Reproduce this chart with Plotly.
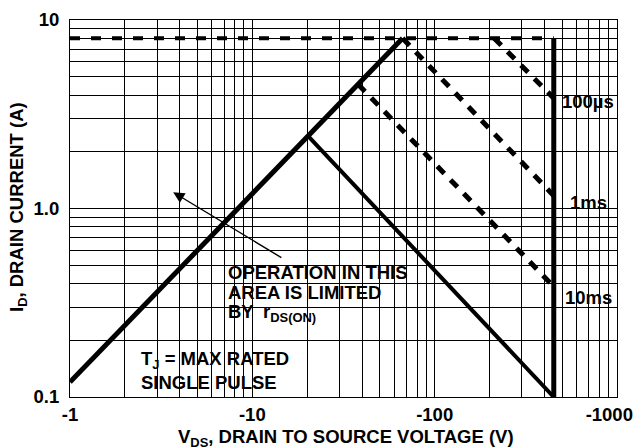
import numpy as np
import plotly.graph_objects as go

# ---------------- data ----------------
# |V_DS| in volts, I_D in amps (log-log safe operating area)
rds_v = [1, 66.7]
rds_i = [0.12, 8]

dc_v = [20, 450]
dc_i = [2.45, 0.1]

limit_v = [1, 450]
limit_i = [8, 8]

bv_v = [450, 450]
bv_i = [8, 0.1]

p100us_v = [212, 450]
p100us_i = [8, 3.85]

p1ms_v = [66.7, 450]
p1ms_i = [8, 1.17]

p10ms_v = [38, 450]
p10ms_i = [4.56, 0.385]

x_grid = [m * 10 ** d for d in range(3) for m in range(1, 10)] + [1000]
x_labels = {1: "-1", 10: "-10", 100: "-100", 1000: "-1000\u2007\u00a0"}
x_text = [x_labels.get(v, "") for v in x_grid]
y_grid = [round(m * 10 ** d, 3) for d in (-1, 0) for m in range(1, 10)] + [10]
y_labels = {0.1: "0.1", 1: "1.0", 10: "10"}
y_text = [y_labels.get(v, "") for v in y_grid]

pulse_labels = ["100\u00b5s", "1ms", "10ms"]

# ---------------- figure ----------------
FONT = "Liberation Sans, Arial, Helvetica, sans-serif"
FS = 18.5
W, H = 637, 448
L, R, T, B = 70, 20, 20, 51
PW, PH = W - L - R, H - T - B


def px(x):
    return (x - L) / PW


def py(y):
    return (H - B - y) / PH


fig = go.Figure()

fig.add_trace(go.Scatter(x=rds_v, y=rds_i, mode="lines", line=dict(color="black", width=5)))
fig.add_trace(go.Scatter(x=dc_v, y=dc_i, mode="lines", line=dict(color="black", width=4)))
fig.add_trace(go.Scatter(x=bv_v, y=bv_i, mode="lines", line=dict(color="black", width=5)))
fig.add_trace(go.Scatter(x=limit_v, y=limit_i, mode="lines",
                         line=dict(color="black", width=4, dash="10px,11px")))
for vv, ii in [(p100us_v, p100us_i), (p1ms_v, p1ms_i), (p10ms_v, p10ms_i)]:
    fig.add_trace(go.Scatter(x=vv, y=ii, mode="lines",
                             line=dict(color="black", width=5, dash="10px,9px")))

# white boxes behind text (above grid, below traces)
boxes = [(215, 256, 410, 327), (130, 342, 304, 393),
         (560, 94, 616, 110), (560, 188, 616, 214), (560, 286, 616, 307)]
for x0, y0, x1, y1 in boxes:
    fig.add_shape(type="rect", xref="paper", yref="paper",
                  x0=px(x0), x1=px(x1), y0=py(y1), y1=py(y0),
                  fillcolor="white", line=dict(width=0), layer="between")

tf = dict(family=FONT, size=FS, color="black", weight="bold")

# pulse labels
for lab, yc in zip(pulse_labels, [101, 202, 297]):
    fig.add_annotation(text=lab, xref="paper", yref="paper", x=px(588), y=py(yc),
                       xanchor="center", yanchor="middle", showarrow=False, font=tf)

# operation note
for txt, yc in [("OPERATION IN THIS", 272), ("AREA IS LIMITED", 292),
                ("BY\u2002r<sub>DS(ON)</sub>", 313)]:
    fig.add_annotation(text=txt, xref="paper", yref="paper", x=px(226), y=py(yc),
                       xanchor="left", yanchor="middle", showarrow=False, font=tf)

for txt, yc in [("T<sub>J</sub> = MAX RATED", 360), ("SINGLE PULSE", 382)]:
    fig.add_annotation(text=txt, xref="paper", yref="paper", x=px(139), y=py(yc),
                       xanchor="left", yanchor="middle", showarrow=False, font=tf)

# arrow
fig.add_annotation(text="", x=np.log10(3.68), y=np.log10(1.22), xref="x", yref="y",
                   ax=np.log10(14.7), ay=np.log10(0.543), axref="x", ayref="y",
                   showarrow=True, arrowhead=2, arrowsize=1.6, arrowwidth=1.4,
                   arrowcolor="black", standoff=0)

# axis titles
fig.add_annotation(text="V<sub>DS</sub>, DRAIN TO SOURCE VOLTAGE (V)", xref="paper", yref="paper",
                   x=px(346), y=py(437.5), xanchor="center", yanchor="middle",
                   showarrow=False, font=tf)
fig.add_annotation(text="I<sub>D</sub>, DRAIN CURRENT (A)", xref="paper", yref="paper",
                   x=px(18), y=py(207), xanchor="center", yanchor="middle",
                   textangle=-90, showarrow=False, font=tf)

axis_common = dict(showgrid=True, gridcolor="black", gridwidth=1, zeroline=False,
                   showline=True, linecolor="black", linewidth=1, mirror=True,
                   ticks="", automargin=False, ticklabeloverflow="allow",
                   tickfont=dict(family=FONT, size=FS, color="black", weight="bold"))

fig.update_xaxes(type="log", range=[0, 3], tickmode="array", tickvals=x_grid, ticktext=x_text,
                 ticklabelstandoff=1, **axis_common)
fig.update_yaxes(type="log", range=[-1, 1], tickmode="array", tickvals=y_grid, ticktext=y_text,
                 ticklabelstandoff=6, **axis_common)

fig.update_layout(width=W, height=H, margin=dict(l=L, r=R, t=T, b=B),
                  paper_bgcolor="white", plot_bgcolor="white", showlegend=False,
                  font=dict(family=FONT, color="black"), hovermode=False)

fig.write_html("out.html", config={"displayModeBar": False},
               post_script="document.body.style.margin='0';")
